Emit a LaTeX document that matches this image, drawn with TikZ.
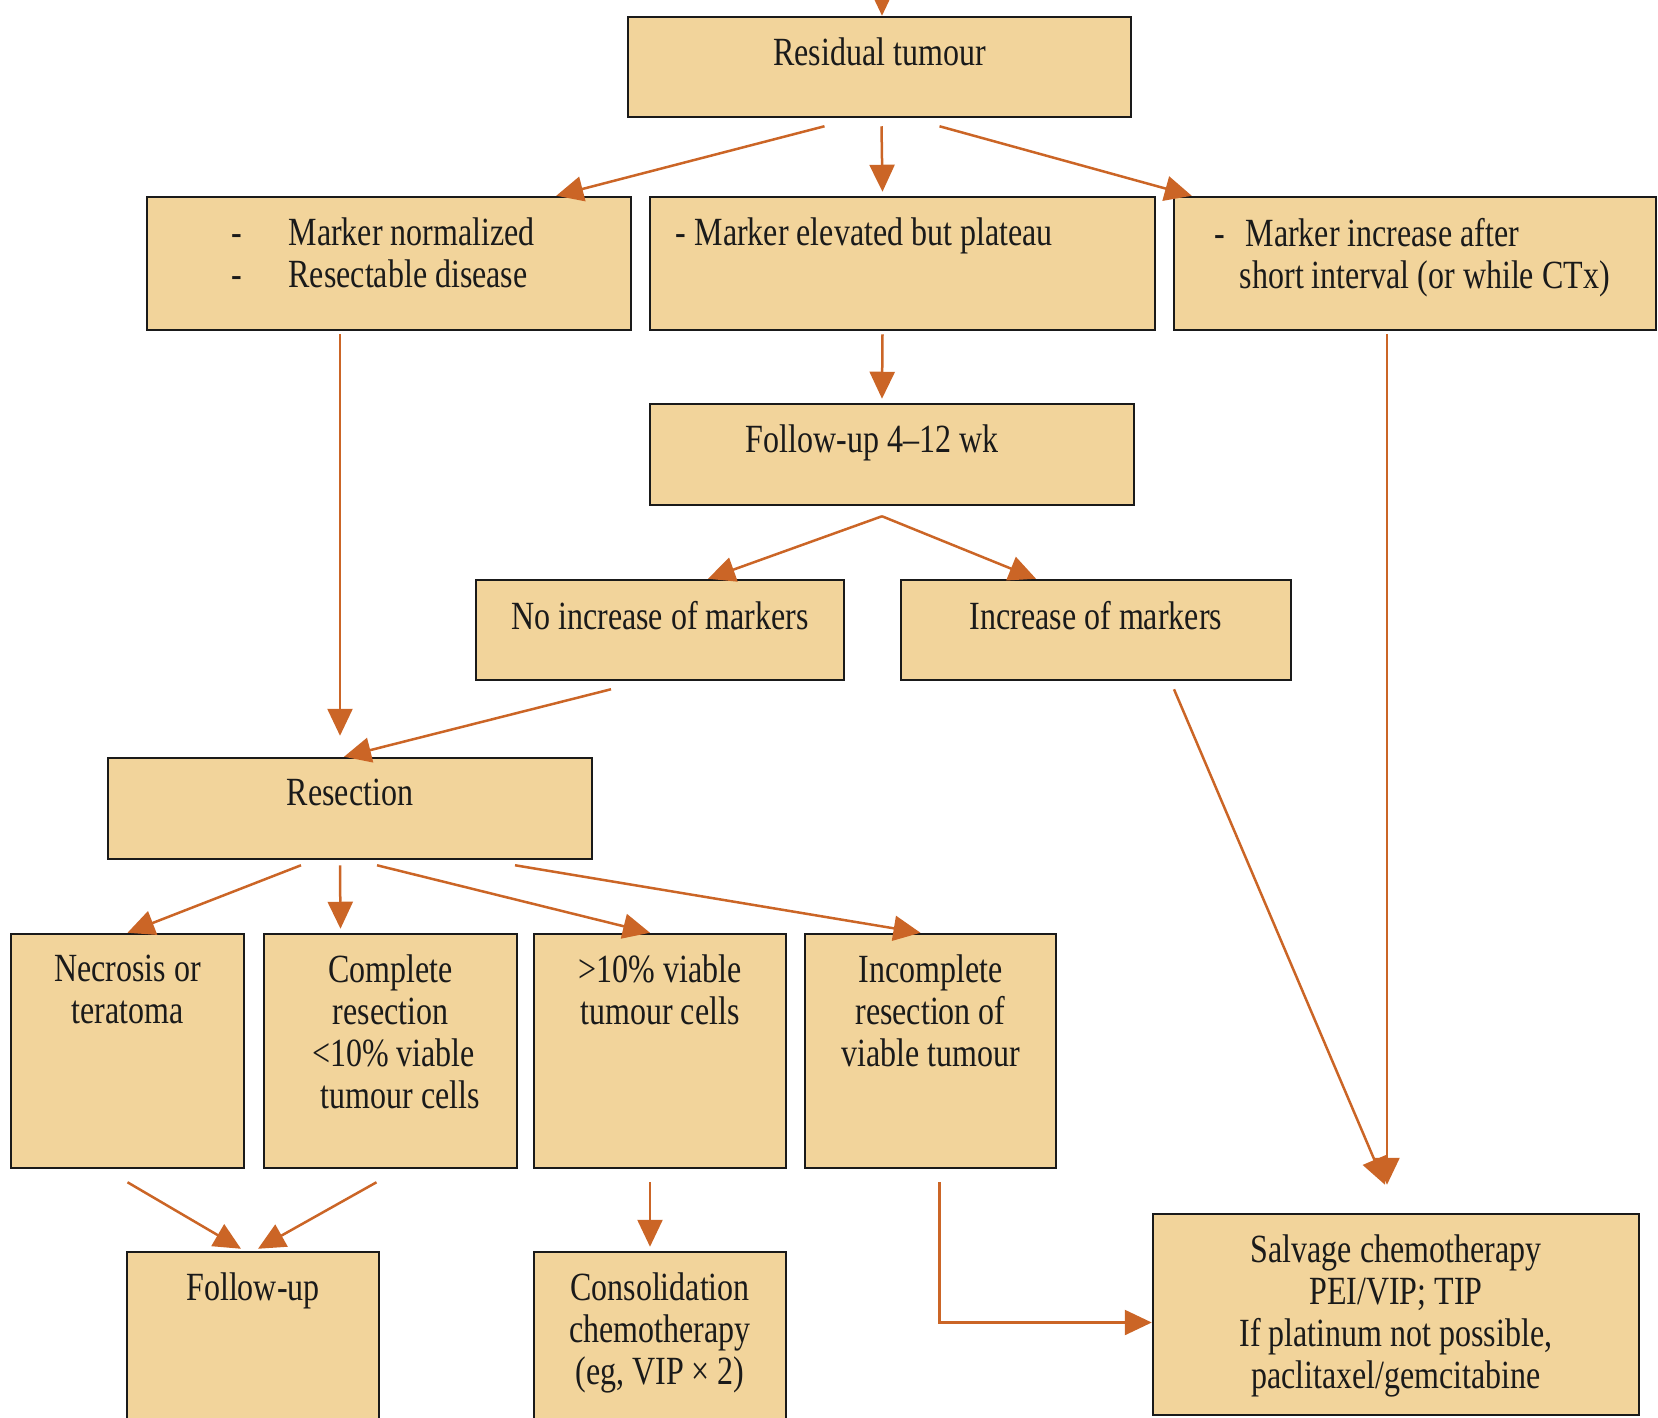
\documentclass[tikz,border=0pt]{standalone}
\usepackage{fontspec}
\setmainfont{Liberation Serif}[FakeStretch=0.8]
\usetikzlibrary{arrows.meta,positioning}

\definecolor{boxfill}{HTML}{F2D49B}
\definecolor{arrcol}{HTML}{CB6526}
\definecolor{ink}{HTML}{1A1A1A}

\tikzset{
  flowbox/.style={draw=ink, line width=2.5pt, fill=boxfill, inner sep=0pt},
  flowtext/.style={inner sep=0pt, text=ink, font=\fontsize{40}{42}\selectfont, align=center},
  flowarrow/.style={draw=arrcol, line width=2.5pt, -{Triangle[length=27pt,width=25pt]}}
}

\begin{document}
\begin{tikzpicture}[x=1pt,y=-1pt]
  \useasboundingbox (0,0) rectangle (1658,1417);
  \clip (0,0) rectangle (1658,1417);

  % boxes
  \node[flowbox, minimum width=503pt, minimum height=100pt] (res) at (879.5,67) {};
  \node[flowbox, minimum width=484pt, minimum height=133pt] (mnorm) at (389,263.5) {};
  \node[flowbox, minimum width=505pt, minimum height=133pt] (melev) at (902.5,263.5) {};
  \node[flowbox, minimum width=482pt, minimum height=133pt] (minc) at (1415,263.5) {};
  \node[flowbox, minimum width=484pt, minimum height=101pt] (fuwk) at (892,454.5) {};
  \node[flowbox, minimum width=368pt, minimum height=100pt] (noinc) at (660,630) {};
  \node[flowbox, minimum width=390pt, minimum height=100pt] (inc) at (1096,630) {};
  \node[flowbox, minimum width=484pt, minimum height=101pt] (resec) at (350,808.5) {};
  \node[flowbox, minimum width=233pt, minimum height=234pt] (necro) at (127.5,1051) {};
  \node[flowbox, minimum width=253pt, minimum height=234pt] (compl) at (390.5,1051) {};
  \node[flowbox, minimum width=252pt, minimum height=234pt] (viab) at (660,1051) {};
  \node[flowbox, minimum width=251pt, minimum height=234pt] (incompl) at (930.5,1051) {};
  \node[flowbox, minimum width=252pt, minimum height=188pt] (fu) at (253,1346) {};
  \node[flowbox, minimum width=252pt, minimum height=188pt] (consol) at (660,1346) {};
  \node[flowbox, minimum width=486pt, minimum height=201pt] (salv) at (1396,1314.5) {};

  % texts
  \node[flowtext, below=22pt of res.north] (res-t) {Residual tumour};
  \node[flowtext, align=left, below right=22pt and 86pt of mnorm.north west] (mnorm-t)
    {-\hspace*{46pt}Marker normalized\\-\hspace*{46pt}Resectable disease};
  \node[flowtext, align=left, below right=22pt and 27pt of melev.north west] (melev-t)
    {- Marker elevated but plateau};
  \node[flowtext, align=left, below right=22pt and 42pt of minc.north west] (minc-t)
    {-\hspace*{20pt}Marker increase after\\\hspace*{25pt}short interval (or while CTx)};
  \node[flowtext, below=22pt of fuwk.north, xshift=-20pt] (fuwk-t) {Follow-up 4--12 wk};
  \node[flowtext, below=22pt of noinc.north] (noinc-t) {No increase of markers};
  \node[flowtext, below=22pt of inc.north] (inc-t) {Increase of markers};
  \node[flowtext, below=22pt of resec.north] (resec-t) {Resection};
  \node[flowtext, below=22pt of necro.north] (necro-t) {Necrosis or\\teratoma};
  \node[flowtext, below=22pt of compl.north] (compl-t)
    {Complete\\resection\\\hspace*{6pt}<10\% viable\\\hspace*{20pt}tumour cells};
  \node[flowtext, below=22pt of viab.north] (viab-t) {>10\% viable\\tumour cells};
  \node[flowtext, below=22pt of incompl.north] (incompl-t) {Incomplete\\resection of\\viable tumour};
  \node[flowtext, below=22pt of fu.north] (fu-t) {Follow-up};
  \node[flowtext, below=22pt of consol.north] (consol-t) {Consolidation\\chemotherapy\\(eg, VIP × 2)};
  \node[flowtext, below=22pt of salv.north] (salv-t)
    {Salvage chemotherapy\\PEI/VIP; TIP\\If platinum not possible,\\paclitaxel/gemcitabine};

  % arrows
  \coordinate (entry) at (882,-30);
  \draw[flowarrow] (entry) -- (entry |- res.north);
  \draw[flowarrow] ([shift={(-55,8)}]res.south) -- ([shift={(-76,0)}]mnorm.north east);
  \draw[flowarrow] ([shift={(2,8)}]res.south) -- ([shift={(-20,-4)}]melev.north);
  \draw[flowarrow] ([shift={(60,8)}]res.south) -- ([shift={(19,0)}]minc.north west);
  \draw[flowarrow] ([shift={(-49,3)}]mnorm.south) -- ([shift={(-10,-21)}]resec.north);
  \draw[flowarrow] ([shift={(-20,3)}]melev.south) -- ([shift={(-10,-4)}]fuwk.north);
  \draw[flowarrow] ([shift={(-10,10)}]fuwk.south) -- ([shift={(48,0)}]noinc.north);
  \draw[flowarrow] ([shift={(-10,10)}]fuwk.south) -- ([shift={(-60,0)}]inc.north);
  \draw[flowarrow] ([shift={(-49,8)}]noinc.south) -- ([shift={(-6,0)}]resec.north);
  \draw[flowarrow] ([shift={(78,8)}]inc.south) -- ([shift={(-11,-28)}]salv.north);
  \draw[flowarrow] ([shift={(-28,3)}]minc.south) -- ([shift={(-9,-28)}]salv.north);
  \draw[flowarrow] ([shift={(-49,5)}]resec.south) -- (necro.north);
  \draw[flowarrow] ([shift={(-10,5)}]resec.south) -- ([shift={(-50,-4)}]compl.north);
  \draw[flowarrow] ([shift={(27,5)}]resec.south) -- ([shift={(-10,0)}]viab.north);
  \draw[flowarrow] ([shift={(165,5)}]resec.south) -- ([shift={(-10,0)}]incompl.north);
  \draw[flowarrow] ([shift={(0,13)}]necro.south) -- ([shift={(-12,-2)}]fu.north);
  \draw[flowarrow] ([shift={(-14,13)}]compl.south) -- ([shift={(5,-2)}]fu.north);
  \draw[flowarrow] ([shift={(-10,13)}]viab.south) -- ([shift={(-10,-4)}]consol.north);
  \draw[flowarrow] ([shift={(9,13)}]incompl.south) |- ([shift={(0,8)}]salv.west);
\end{tikzpicture}
\end{document}
